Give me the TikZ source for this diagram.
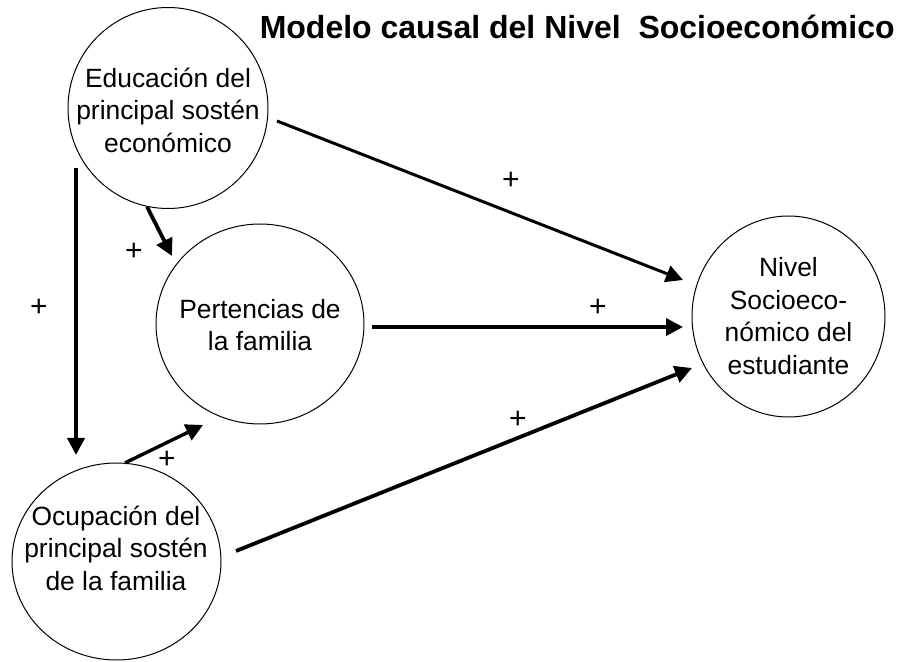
\documentclass[tikz,border=0pt]{standalone}
\usepackage{fontspec}
\setmainfont{Liberation Sans}
\usetikzlibrary{arrows.meta,shapes.geometric}
\tikzset{
	var/.style={draw, ellipse, line width=0.5pt, inner sep=0pt},
	vartxt/.style={align=center, font=\fontsize{13.2}{16.25}\selectfont},
	conn/.style={line width=1.9pt, -{Triangle[length=8.5pt,width=8.5pt]}},
	sign/.style={font=\fontsize{15}{18}\selectfont}
}

\begin{document}
\begin{tikzpicture}[x=0.5pt, y=-0.5pt]
			%%%%% START %%%%%
			
			\useasboundingbox (0, 0) rectangle (900, 662);
			
			\node[anchor=base east, inner sep=0pt, font=\bfseries\fontsize{16}{19}\selectfont] (title) at (895, 39) {Modelo causal del Nivel\ \ Socioeconómico};
			
			\node[var, minimum width=100pt, minimum height=100.5pt] (edu) at (168, 108) {};
			\node[vartxt] (edutxt) at (168, 110) {Educación del\\principal sostén\\económico};
			
			\node[var, minimum width=104pt, minimum height=100pt] (pert) at (260, 324) {};
			\node[vartxt] (perttxt) at (260, 325) {Pertencias de\\la familia};
			
			\node[var, minimum width=104.5pt, minimum height=98.5pt] (ocup) at (116.5, 561.5) {};
			\node[vartxt] (ocuptxt) at (116, 548) {Ocupación del\\principal sostén\\de la familia};
			
			\node[var, minimum width=96.5pt, minimum height=100.5pt] (nse) at (788.5, 316.5) {};
			\node[vartxt] (nsetxt) at (788.5, 316) {Nivel\\Socioeco-\\nómico del\\estudiante};
			
			\coordinate (v0) at (76, 168);
			\coordinate (v1) at (76, 455);
			\coordinate (ep) at (172, 256);
			\coordinate (e0) at (277, 121);
			\coordinate (en) at (683, 280);
			\coordinate (p0) at (372, 327);
			\coordinate (pn) at (683, 327);
			\coordinate (op) at (203, 425);
			\coordinate (o0) at (236, 551);
			\coordinate (on) at (692, 368);
			
			\draw[conn] (v0) -- (v1);
			\draw[conn] (edu.258) -- (ep);
			\draw[conn, line width=1.5pt] (e0) -- (en);
			\draw[conn] (p0) -- (pn);
			\draw[conn, line width=1.7pt] (ocup.85) -- (op);
			\draw[conn] (o0) -- (on);
			
			\node[sign] (s1) at (39, 308) {+};
			\node[sign] (s2) at (134, 252) {+};
			\node[sign] (s3) at (167, 460) {+};
			\node[sign] (s4) at (511, 181) {+};
			\node[sign] (s5) at (598, 308) {+};
			\node[sign] (s6) at (518, 420) {+};
			
			%%%%% END %%%%%
		\end{tikzpicture}
\end{document}
